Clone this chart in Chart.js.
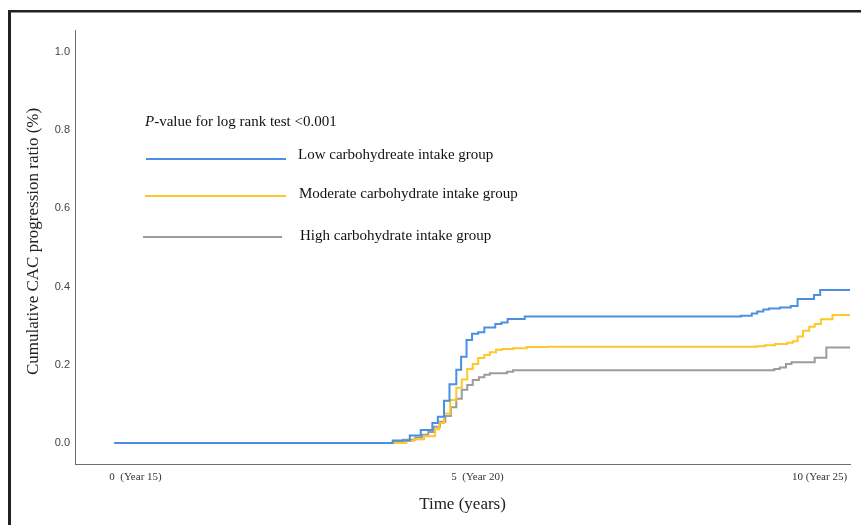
<!DOCTYPE html>
<html>
<head>
<meta charset="utf-8">
<script src="https://cdn.jsdelivr.net/npm/chart.js@4.4.0/dist/chart.umd.min.js"></script>
<style>
  body { margin: 0; background: #fff; }
  canvas { display: block; }
</style>
</head>
<body>
<canvas id="myChart" width="861" height="525"></canvas>
<script>
// group names (legend text as printed, typo included)
var groupNames = ['Low carbohydreate intake group', 'Moderate carbohydrate intake group', 'High carbohydrate intake group'];
var groupColors = ['#4a8fe2', '#fcc82a', '#9c9c9c'];

// step curves: time (years since Year 15) / cumulative ratio
var lowTime  = [-0.31, 3.76, 4.01, 4.17, 4.34, 4.42, 4.51, 4.59, 4.69, 4.76, 4.84, 4.92, 5.01, 5.10, 5.26, 5.35, 5.44, 5.69, 8.85, 9.01, 9.09, 9.18, 9.26, 9.42, 9.58, 9.68, 9.92, 10.01, 10.45];
var lowRatio = [0, 0.006, 0.019, 0.033, 0.051, 0.067, 0.108, 0.150, 0.187, 0.220, 0.263, 0.279, 0.283, 0.295, 0.304, 0.308, 0.317, 0.323, 0.325, 0.331, 0.336, 0.341, 0.344, 0.346, 0.350, 0.368, 0.378, 0.391, 0.391];

var modTime  = [-0.31, 3.96, 4.06, 4.22, 4.38, 4.44, 4.51, 4.60, 4.69, 4.77, 4.85, 4.93, 5.01, 5.10, 5.18, 5.27, 5.36, 5.52, 5.72, 6.02, 9.08, 9.20, 9.35, 9.53, 9.61, 9.68, 9.76, 9.85, 9.93, 10.02, 10.19, 10.45];
var modRatio = [0, 0.005, 0.009, 0.017, 0.035, 0.051, 0.075, 0.110, 0.141, 0.162, 0.189, 0.202, 0.217, 0.225, 0.232, 0.238, 0.240, 0.242, 0.245, 0.246, 0.247, 0.250, 0.253, 0.256, 0.260, 0.272, 0.287, 0.297, 0.304, 0.316, 0.327, 0.327];

var highTime  = [-0.31, 3.77, 3.91, 4.09, 4.19, 4.28, 4.36, 4.45, 4.53, 4.61, 4.69, 4.77, 4.85, 4.93, 5.02, 5.10, 5.18, 5.43, 5.52, 9.34, 9.42, 9.51, 9.59, 9.93, 10.10, 10.45];
var highRatio = [0, 0.004, 0.008, 0.014, 0.021, 0.028, 0.041, 0.054, 0.069, 0.091, 0.113, 0.136, 0.148, 0.161, 0.168, 0.174, 0.178, 0.182, 0.186, 0.189, 0.193, 0.202, 0.206, 0.218, 0.244, 0.244];

var xTickValues = [0, 5, 10];
var xTickLabels = ['0  (Year 15)', '5  (Year 20)', '10 (Year 25)'];
var yTickValues = [0, 0.2, 0.4, 0.6, 0.8, 1.0];

var yTitle = 'Cumulative CAC progression ratio (%)';
var pValueText = '-value for log rank test <0.001';

function toPoints(xs, ys) {
  var pts = [];
  for (var i = 0; i < xs.length; i++) {
    pts.push({x: xs[i], y: ys[i]});
  }
  return pts;
}

var serif = '"Liberation Serif", "Times New Roman", serif';
var sans = '"Liberation Sans", Arial, sans-serif';

// black frame on top and left edges
var framePlugin = {
  id: 'frame',
  beforeDraw: function(chart) {
    var c = chart.ctx;
    c.save();
    c.fillStyle = '#fff';
    c.fillRect(0, 0, chart.width, chart.height);
    c.fillStyle = '#222';
    c.fillRect(8, 10, chart.width - 8, 2.5);
    c.fillRect(8, 10, 3, chart.height - 10);
    c.restore();
  }
};

// y title sits a bit above the plot middle, so draw it by hand
var yTitlePlugin = {
  id: 'yTitle',
  afterDraw: function(chart) {
    var c = chart.ctx;
    c.save();
    c.translate(33.5, 241.5);
    c.rotate(-Math.PI / 2);
    c.textAlign = 'center';
    c.textBaseline = 'middle';
    c.fillStyle = '#222';
    c.font = '17px ' + serif;
    c.fillText(yTitle, 0, 0);
    c.restore();
  }
};

// legend block inside the plot
var legendPlugin = {
  id: 'kmLegend',
  afterDraw: function(chart) {
    var c = chart.ctx;
    c.save();
    c.textBaseline = 'middle';
    c.fillStyle = '#111';
    c.font = 'italic 15px ' + serif;
    c.fillText('P', 145, 122.5);
    var w = c.measureText('P').width;
    c.font = '15px ' + serif;
    c.fillText(pValueText, 145 + w, 122.5);

    var rows = [
      {x0: 146, x1: 286, ly: 159, tx: 298, ty: 155},
      {x0: 145, x1: 286, ly: 196, tx: 299, ty: 194},
      {x0: 143, x1: 282, ly: 237, tx: 300, ty: 236}
    ];
    chart.data.datasets.forEach(function(ds, i) {
      var r = rows[i];
      c.strokeStyle = ds.borderColor;
      c.lineWidth = 2;
      c.beginPath();
      c.moveTo(r.x0, r.ly);
      c.lineTo(r.x1, r.ly);
      c.stroke();
      c.fillStyle = '#111';
      c.fillText(ds.label, r.tx, r.ty);
    });
    c.restore();
  }
};

var data = {
  datasets: [
    {label: groupNames[0], data: toPoints(lowTime, lowRatio), borderColor: groupColors[0]},
    {label: groupNames[1], data: toPoints(modTime, modRatio), borderColor: groupColors[1]},
    {label: groupNames[2], data: toPoints(highTime, highRatio), borderColor: groupColors[2]}
  ]
};
data.datasets.forEach(function(ds) {
  ds.stepped = true;
  ds.borderWidth = 2;
  ds.pointRadius = 0;
  ds.fill = false;
});

var ctx = document.getElementById('myChart');
var myChart = new Chart(ctx, {
  type: 'line',
  data: data,
  plugins: [framePlugin, yTitlePlugin, legendPlugin],
  options: {
    responsive: false,
    animation: false,
    devicePixelRatio: 1,
    layout: {padding: {left: 20, top: 30, right: 11, bottom: 0}},
    plugins: {
      legend: {display: false},
      tooltip: {enabled: false}
    },
    scales: {
      x: {
        type: 'linear',
        min: -0.885,
        max: 10.446,
        grid: {display: false, drawTicks: false},
        border: {display: true, color: '#6e6e6e', width: 1},
        afterBuildTicks: function(scale) {
          scale.ticks = xTickValues.map(function(v) { return {value: v}; });
        },
        afterFit: function(scale) { scale.height = 61; },
        ticks: {
          padding: 7,
          maxRotation: 0,
          color: '#333',
          font: {family: serif, size: 11},
          callback: function(value) {
            var i = xTickValues.indexOf(value);
            return i >= 0 ? xTickLabels[i] : '';
          }
        },
        title: {
          display: true,
          text: 'Time (years)',
          color: '#222',
          font: {family: serif, size: 17},
          padding: {top: 0, bottom: 10}
        }
      },
      y: {
        min: -0.054,
        max: 1.056,
        grid: {display: false, drawTicks: false},
        border: {display: true, color: '#6e6e6e', width: 1},
        afterBuildTicks: function(scale) {
          scale.ticks = yTickValues.map(function(v) { return {value: v}; });
        },
        afterFit: function(scale) { scale.width = 55; },
        ticks: {
          padding: 5,
          color: '#444',
          font: {family: sans, size: 11},
          callback: function(value) { return value.toFixed(1); }
        }
      }
    }
  }
});
</script>
</body>
</html>
